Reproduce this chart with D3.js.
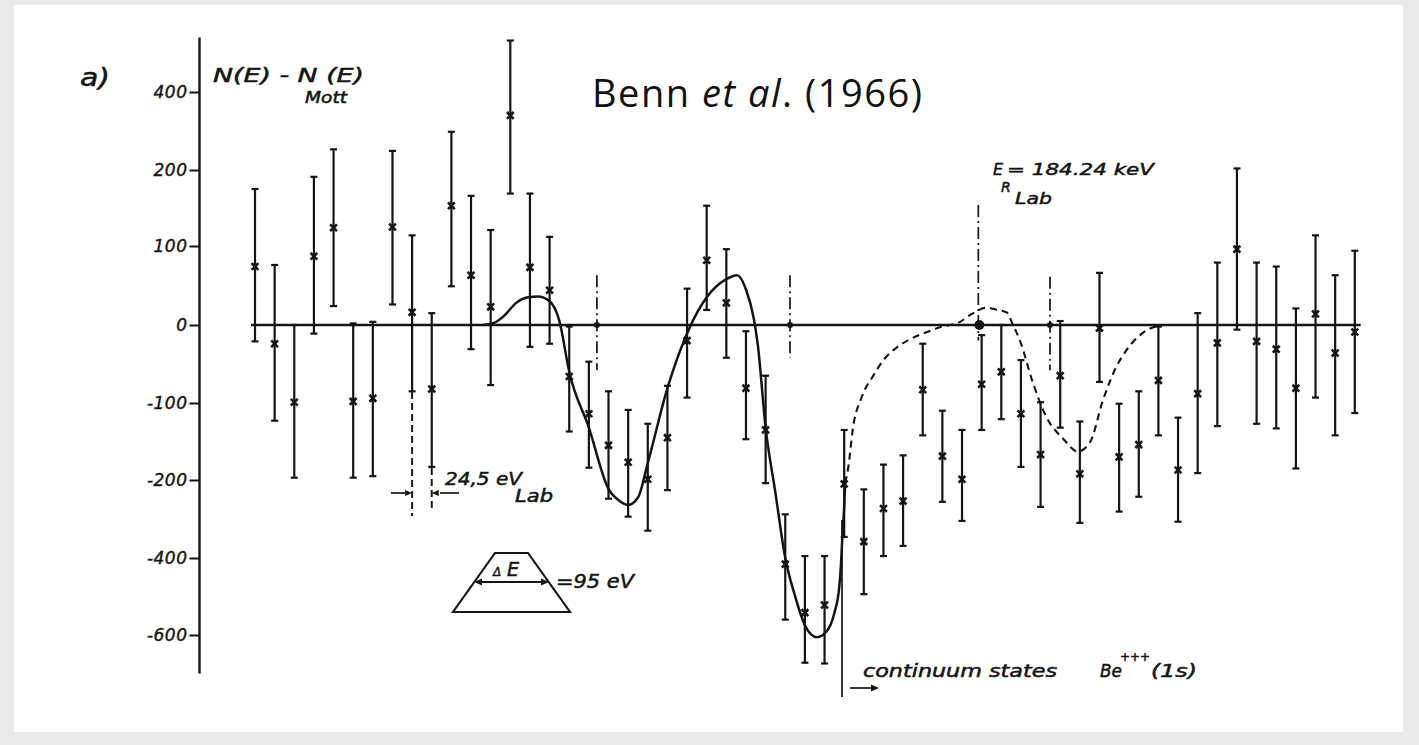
<!DOCTYPE html>
<html><head><meta charset="utf-8">
<script src="https://cdn.jsdelivr.net/npm/d3@7"></script>
<style>
html,body{margin:0;padding:0;background:#e9e9e9;}
svg{display:block;}
.tech{font-family:"DejaVu Sans",sans-serif;font-style:italic;fill:#151515;}
</style></head><body>
<svg id="chart" width="1419" height="745"></svg>
<script>
// ---------------- data ----------------
const channels = [1,2,3,4,5,6,7,8,9,10,11,12,13,14,15,16,17,18,19,20,21,22,23,24,25,26,27,28,29,30,
  31,32,33,34,35,36,37,38,39,40,41,42,43,44,45,46,47,48,49,50,51,52,53,54,55,56,57];
const values = [74,-24,-99,87,124,-98,-94,125,16,-82,153,63,23,340,73,44,-66,-114,-155,-177,
  -199,-145,-20,82,28,-81,-135,-416,-542,-522,-210,-358,-273,-254,-83,-169,-199,-76,-60,-114,
  -167,-65,-192,-4,-170,-154,-71,-187,-88,-23,96,-21,-31,-81,14,-36,-9];
const errHigh = [175,76,0,191,253,2,4,249,114,15,298,166,121,532,169,112,-2,-47,-85,-109,
  -127,-78,46,153,96,-8,-65,-288,-395,-395,-135,-224,-180,-168,-24,-110,-135,-13,0,-45,
  -99,5,-124,66,-101,-85,-2,-119,15,79,204,79,74,21,114,63,94];
const errLow = [-21,-123,-197,-11,24,-197,-195,26,-85,-183,49,-31,-77,169,-28,-24,-137,-184,-248,-294,
  -330,-226,-93,19,-42,-147,-208,-560,-672,-674,-346,-494,-395,-369,-142,-256,-305,-135,-121,-183,
  -269,-132,-310,-73,-281,-243,-142,-307,-191,-130,-6,-127,-133,-185,-93,-142,-113];

// fitted curve (solid) and continuum curve (dashed): [channel, value]
const fitSolid = [[12.6,0],[13.2,3],[13.7,12],[14.3,28],[14.9,35],[15.4,36],[16.0,30],[16.5,5],
  [17.0,-60],[18.0,-132],[19.0,-223],[19.6,-255],[20.0,-264],[20.5,-245],[21.0,-178],[22.0,-81],
  [23.1,-5],[24.0,35],[25.0,58],[25.55,63],[26.0,45],[26.4,8],[26.6,-25],[27.0,-132],[27.5,-233],
  [28.0,-400],[28.5,-499],[29.0,-575],[29.3,-598],[29.6,-606],[30.1,-591],[30.5,-543],[30.75,-475],
  [30.83,-423],[30.91,-343],[31.0,-268],[31.05,-208]];
const fitDashed = [[31.05,-208],[31.2,-185],[31.45,-132],[31.9,-92],[32.48,-65],[33.0,-45],[33.67,-29],
  [34.3,-19],[35.01,-11],[35.88,-3],[36.9,4],[37.5,14],[38.25,22],[38.8,19],[39.27,16],[39.6,0],
  [39.95,-20],[40.61,-74],[41.31,-119],[42.14,-146],[42.9,-163],[43.52,-151],[44.18,-96],[44.87,-53],
  [45.38,-32],[46.21,-10],[47.08,0]];

// resonance markers (dash-dot lines): channel, top value, bottom value
const levelChannels = [18.41, 28.24, 41.48];
const levelTop = [63, 63, 61];
const levelBottom = [-58, -42, -58];
const resonanceChannel = 37.83;      // E_R Lab
const resonanceExtent = [154, -20];

const yTickValues = [400, 200, 100, 0, -100, -200, -400, -600];
const yTickLabels = ["400", "200", "100", "0", "-100", "-200", "-400", "-600"];
const yAxisExtent = [540, -700];
const channelExtent = [0.8, 57.3];

// ---------------- drawing ----------------
const svg = d3.select("#chart");
const ink = "#141414";

svg.append("rect").attr("x", 14).attr("y", 5).attr("width", 1389).attr("height", 727).attr("fill", "#fff");

const x = d3.scaleLinear().domain([1, 57]).range([255, 1354.8]);
// the printed axis is piecewise (labels equally spaced)
const y = d3.scaleLinear()
  .domain([-600, -400, -200, -100, 0, 100, 200, 400])
  .range([635, 558, 480, 403, 325, 246, 170, 92]);

// y axis
const axisX = 199.5;
const gy = svg.append("g").attr("transform", `translate(${axisX},0)`)
  .call(d3.axisLeft(y).tickValues(yTickValues).tickFormat((d, i) => yTickLabels[i])
    .tickSize(10).tickPadding(2).tickSizeOuter(0));
gy.select(".domain").remove();
gy.selectAll(".tick line").attr("stroke", ink).attr("stroke-width", 2);
gy.selectAll(".tick text").attr("class", "tech").attr("font-size", 17)
  .attr("letter-spacing", 0.5).attr("fill", ink).attr("stroke", ink).attr("stroke-width", 0.4);
svg.append("line").attr("x1", axisX).attr("x2", axisX)
  .attr("y1", y(yAxisExtent[0])).attr("y2", y(yAxisExtent[1]))
  .attr("stroke", ink).attr("stroke-width", 2.4);

// error bars
const pts = channels.map((c, i) => ({c, v: values[i], hi: errHigh[i], lo: errLow[i]}));
const eb = svg.append("g").attr("stroke", ink).attr("stroke-width", 2.2);
eb.selectAll("line.bar").data(pts).join("line").attr("class", "bar")
  .attr("x1", d => x(d.c)).attr("x2", d => x(d.c))
  .attr("y1", d => y(d.hi)).attr("y2", d => y(d.lo));
eb.selectAll("line.capt").data(pts).join("line").attr("class", "capt")
  .attr("x1", d => x(d.c) - 3.5).attr("x2", d => x(d.c) + 3.5)
  .attr("y1", d => y(d.hi)).attr("y2", d => y(d.hi));
eb.selectAll("line.capb").data(pts).join("line").attr("class", "capb")
  .attr("x1", d => x(d.c) - 3.5).attr("x2", d => x(d.c) + 3.5)
  .attr("y1", d => y(d.lo)).attr("y2", d => y(d.lo));

// zero line
svg.append("line").attr("x1", x(channelExtent[0])).attr("x2", x(channelExtent[1]))
  .attr("y1", y(0)).attr("y2", y(0)).attr("stroke", ink).attr("stroke-width", 2.4);

// dash-dot level lines
const dd = svg.append("g").attr("stroke", ink).attr("stroke-width", 1.7).attr("stroke-dasharray", "12,4,2,4");
levelChannels.forEach((c, i) => {
  dd.append("line").attr("x1", x(c)).attr("x2", x(c)).attr("y1", y(levelTop[i])).attr("y2", y(levelBottom[i]));
  svg.append("circle").attr("cx", x(c)).attr("cy", y(0)).attr("r", 3).attr("fill", ink);
});
dd.append("line").attr("x1", x(resonanceChannel)).attr("x2", x(resonanceChannel))
  .attr("y1", y(resonanceExtent[0])).attr("y2", y(resonanceExtent[1]));
svg.append("circle").attr("cx", x(resonanceChannel) + 1).attr("cy", y(0)).attr("r", 5).attr("fill", ink);

// curves
const line = d3.line().x(d => x(d[0])).y(d => y(d[1])).curve(d3.curveMonotoneX);
svg.append("path").attr("d", line(fitSolid)).attr("fill", "none").attr("stroke", ink).attr("stroke-width", 2.5);
svg.append("path").attr("d", line(fitDashed)).attr("fill", "none").attr("stroke", ink)
  .attr("stroke-width", 2.1).attr("stroke-dasharray", "7,5");

// markers
svg.append("g").selectAll("path").data(pts).join("path")
  .attr("transform", d => `translate(${x(d.c)},${y(d.v)})`)
  .attr("d", d3.symbol().type(d3.symbolTimes).size(32))
  .attr("stroke", ink).attr("stroke-width", 2.6).attr("fill", "none");

// ---------------- annotations ----------------
const A = svg.append("g");
function t(txt, px, py, size, opts = {}) {
  const e = A.append("text").attr("class", "tech").attr("x", px).attr("y", py)
    .attr("font-size", size).text(txt);
  if (opts.len) e.attr("textLength", opts.len).attr("lengthAdjust", "spacingAndGlyphs");
  if (opts.heavy) e.attr("stroke", ink).attr("stroke-width", 0.5);
  return e;
}
t("a)", 80, 86, 24, {len: 30, heavy: true});
t("N(E) - N (E)", 213, 82, 19, {len: 151, heavy: true});
t("Mott", 305, 103, 15, {len: 42, heavy: true});

// title
const title = A.append("text").attr("x", 592).attr("y", 107)
  .style("font-family", "'Open Sans', sans-serif").attr("font-size", 38).attr("fill", "#111")
  .attr("textLength", 330).attr("lengthAdjust", "spacing");
title.append("tspan").text("Benn ");
title.append("tspan").attr("font-style", "italic").text("et al");
title.append("tspan").text(". (1966)");

// E_R label
t("E", 993, 175, 16, {heavy: true});
t("= 184.24 keV", 1007, 175, 16, {len: 147, heavy: true});
t("R", 1001, 192, 14, {heavy: true});
t("Lab", 1015, 204, 16, {len: 37, heavy: true});

// 24,5 eV
t("24,5 eV", 445, 485, 18, {len: 77, heavy: true});
t("Lab", 515, 502, 17, {len: 38, heavy: true});
const an = A.append("g").attr("stroke", ink).attr("fill", ink);
an.append("line").attr("x1", x(9)).attr("x2", x(9)).attr("y1", 392).attr("y2", 516)
  .attr("stroke-width", 1.9).attr("stroke-dasharray", "7,4");
an.append("line").attr("x1", x(10)).attr("x2", x(10)).attr("y1", 468).attr("y2", 512)
  .attr("stroke-width", 1.9).attr("stroke-dasharray", "7,4");
an.append("line").attr("x1", 391).attr("x2", 405).attr("y1", 493).attr("y2", 493).attr("stroke-width", 1.7);
an.append("path").attr("d", `M${x(9)},493 l-7,-3 l0,6 z`).attr("stroke", "none");
an.append("line").attr("x1", 440).attr("x2", 459).attr("y1", 493).attr("y2", 493).attr("stroke-width", 1.7);
an.append("path").attr("d", `M${x(10)},493 l7,-3 l0,6 z`).attr("stroke", "none");

// Delta E trapezoid
an.append("path").attr("d", "M495,553 L528,553 L570,612 L453,612 Z").attr("fill", "none").attr("stroke-width", 2.1);
an.append("line").attr("x1", 480).attr("x2", 543).attr("y1", 582).attr("y2", 582).attr("stroke-width", 1.9);
an.append("path").attr("d", "M474,582 l8,-3.5 l0,7 z").attr("stroke", "none");
an.append("path").attr("d", "M549,582 l-8,-3.5 l0,7 z").attr("stroke", "none");
t("\u0394", 493, 576, 12, {heavy: true});
t("E", 507, 576, 19, {heavy: true});
t("=95 eV", 556, 588, 19, {len: 78, heavy: true});

// continuum states
an.append("line").attr("x1", 842).attr("x2", 842).attr("y1", 520).attr("y2", 697).attr("stroke-width", 1.7);
an.append("line").attr("x1", 850).attr("x2", 872).attr("y1", 688).attr("y2", 688).attr("stroke-width", 1.7);
an.append("path").attr("d", "M879,688 l-8,-3.5 l0,7 z").attr("stroke", "none");
t("continuum states", 863, 677, 17, {len: 194, heavy: true});
t("Be", 1100, 677, 18, {len: 22, heavy: true});
t("+++", 1120, 661, 12, {len: 30, heavy: true});
t("(1s)", 1151, 677, 17, {len: 46, heavy: true});
</script>
</body></html>
